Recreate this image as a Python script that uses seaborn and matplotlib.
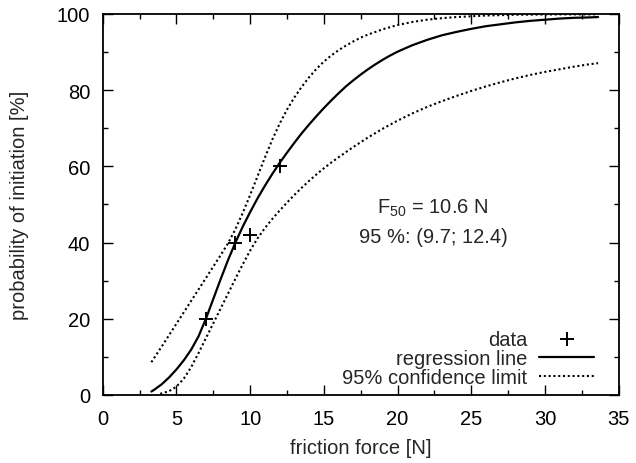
import numpy as np
import pandas as pd
import matplotlib
matplotlib.use("Agg")
import matplotlib.pyplot as plt
import seaborn as sns
from matplotlib.ticker import MultipleLocator

# ---- data ----
data_force = [7.0, 9.0, 10.0, 12.0]
data_prob = [20.0, 40.0, 42.0, 60.0]

reg_force = [3.3, 3.5, 4.0, 4.5, 5.0, 5.5, 6.0, 6.5, 7.0, 7.5, 8.0, 8.5, 9.0, 9.5,
             10.0, 10.5, 11.0, 11.5, 12.0, 12.5, 13.0, 13.5, 14.0, 14.5, 15.0,
             15.5, 16.0, 16.5, 17.0, 17.5, 18.0, 18.5, 19.0, 19.5, 20.0, 21.0,
             22.0, 23.0, 24.0, 25.0, 26.0, 27.0, 28.0, 29.0, 30.0, 31.0, 32.0,
             33.0, 33.6]
reg_prob = [0.9, 1.4, 2.8, 4.6, 6.7, 9.1, 11.9, 15.4, 20.0, 25.2, 30.4, 35.4, 40.0, 44.2,
            48.0, 51.6, 54.9, 58.0, 60.9, 63.6, 66.2, 68.7, 71.0, 73.2, 75.3,
            77.3, 79.2, 81.0, 82.6, 84.1, 85.5, 86.8, 88.0, 89.1, 90.1, 91.8,
            93.2, 94.4, 95.3, 96.1, 96.8, 97.3, 97.8, 98.2, 98.5, 98.8, 99.0,
            99.1, 99.2]

upper_force = [3.3, 4.0, 4.5, 5.0, 5.5, 6.0, 6.5, 7.0, 7.5, 8.0, 8.5, 9.0, 9.5,
               10.0, 10.5, 11.0, 11.5, 12.0, 12.5, 13.0, 13.5, 14.0, 14.5, 15.0,
               15.5, 16.0, 16.5, 17.0, 17.5, 18.0, 19.0, 20.0, 21.0, 22.0, 23.0,
               24.0, 25.0, 26.0, 28.0, 31.0, 33.6]
upper_prob = [8.6, 12.7, 15.7, 18.7, 21.7, 24.7, 27.7, 30.7, 33.7, 36.7, 39.8, 43.5, 47.8,
              52.5, 57.4, 62.3, 67.0, 71.2, 74.9, 78.1, 80.9, 83.4, 85.6, 87.5,
              89.1, 90.5, 91.7, 92.8, 93.8, 94.6, 96.0, 97.1, 97.9, 98.5, 98.9,
              99.2, 99.4, 99.6, 99.8, 99.9, 99.9]

lower_force = [3.9, 4.5, 5.0, 5.5, 6.0, 6.5, 7.0, 7.5, 8.0, 8.5, 9.0, 9.5, 10.0,
               10.5, 11.0, 11.5, 12.0, 12.5, 13.0, 13.5, 14.0, 14.5, 15.0, 15.5,
               16.0, 17.0, 18.0, 19.0, 20.0, 21.0, 22.0, 23.0, 24.0, 25.0, 26.0,
               27.0, 28.0, 29.0, 30.0, 31.0, 32.0, 33.0, 33.6]
lower_prob = [0.3, 1.0, 2.2, 4.3, 7.3, 11.0, 14.9, 18.8, 22.7, 26.6, 30.5, 34.3, 37.9,
              41.1, 43.8, 46.2, 48.4, 50.5, 52.5, 54.4, 56.2, 57.9, 59.5, 61.0,
              62.4, 65.1, 67.6, 69.9, 72.0, 73.9, 75.6, 77.1, 78.5, 79.8, 81.0,
              82.1, 83.1, 84.0, 84.8, 85.5, 86.2, 86.8, 87.1]

x_ticks = [0, 5, 10, 15, 20, 25, 30, 35]
y_ticks = [0, 20, 40, 60, 80, 100]

# ---- style ----
sns.set_style("ticks")
plt.rcParams['font.family'] = ['Liberation Sans', 'DejaVu Sans']
plt.rcParams['mathtext.default'] = 'regular'
FS = 14.5

fig = plt.figure(figsize=(6.36, 4.64), dpi=100)
ax = fig.add_axes([0.1615, 0.1466, 0.8113, 0.8211])

reg_df = pd.DataFrame({"force": reg_force, "prob": reg_prob})
up_df = pd.DataFrame({"force": upper_force, "prob": upper_prob})
lo_df = pd.DataFrame({"force": lower_force, "prob": lower_prob})
pts_df = pd.DataFrame({"force": data_force, "prob": data_prob})

sns.lineplot(data=reg_df, x="force", y="prob", ax=ax, color="black", lw=1.6,
             sort=False, estimator=None, label="regression line")
dot = (0, (1.0, 1.3))
sns.lineplot(data=up_df, x="force", y="prob", ax=ax, color="black", lw=1.5,
             sort=False, estimator=None, label="95% confidence limit", linestyle=dot)
sns.lineplot(data=lo_df, x="force", y="prob", ax=ax, color="black", lw=1.5,
             sort=False, estimator=None, label="_nolegend_", linestyle=dot)
sns.scatterplot(data=pts_df, x="force", y="prob", ax=ax, marker="+", s=110,
                color="black", linewidth=1.4, label="data", zorder=5)

ax.set_xlim(0, 35)
ax.set_ylim(0, 100)
ax.set_xticks(x_ticks)
ax.set_yticks(y_ticks)
ax.xaxis.set_minor_locator(MultipleLocator(2.5))
ax.yaxis.set_minor_locator(MultipleLocator(10))
ax.tick_params(which="both", direction="in", top=True, right=True, width=1.0,
               labelsize=FS, colors="black")
ax.tick_params(axis="x", which="major", pad=10)
ax.tick_params(axis="y", which="major", pad=9)
ax.tick_params(which="major", length=7)
ax.tick_params(which="minor", length=3.5)
for s in ax.spines.values():
    s.set_linewidth(1.3)
    s.set_color("black")

ax.set_xlabel("friction force [N]", fontsize=FS, labelpad=7)
ax.set_ylabel("probability of initiation [%]", fontsize=FS, labelpad=20)

ax.text(22.4, 49.3, "F$_{50}$ = 10.6 N", fontsize=FS, ha="center", va="center")
ax.text(22.4, 41.7, "95 %: (9.7; 12.4)", fontsize=FS, ha="center", va="center")

handles, labels = ax.get_legend_handles_labels()
order = [labels.index("data"), labels.index("regression line"),
         labels.index("95% confidence limit")]
leg = ax.legend([handles[i] for i in order], [labels[i] for i in order],
                loc="lower right", bbox_to_anchor=(0.975, -0.012), frameon=False,
                markerfirst=False, fontsize=FS, handlelength=2.7,
                handletextpad=0.6, labelspacing=0.02, borderaxespad=0.2)

fig.savefig("out.png", dpi=100)
